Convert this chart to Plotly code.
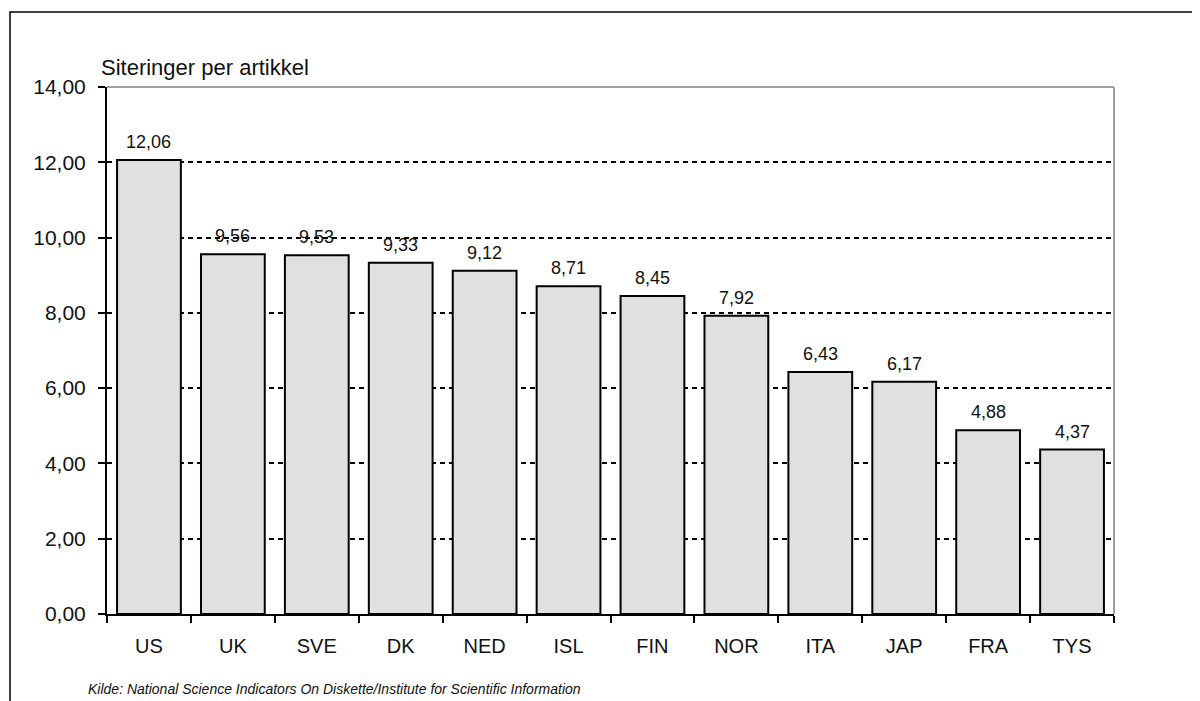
import plotly.graph_objects as go

categories = ["US", "UK", "SVE", "DK", "NED", "ISL", "FIN", "NOR", "ITA", "JAP", "FRA", "TYS"]
values = [12.06, 9.56, 9.53, 9.33, 9.12, 8.71, 8.45, 7.92, 6.43, 6.17, 4.88, 4.37]
y_tickvals = [0, 2, 4, 6, 8, 10, 12, 14]
y_ticktext = ["0,00", "2,00", "4,00", "6,00", "8,00", "10,00", "12,00", "14,00"]
y_title = "Siteringer per artikkel"
source_note = "Kilde: National Science Indicators On Diskette/Institute for Scientific Information"

FONT = "Arial, 'Liberation Sans', sans-serif"

# page has an 8px body margin; work in page pixels and convert
OFF = 8
W, H = 1200 - OFF, 701 - OFF
L, R, T, B = 107 - OFF, 1114 - OFF, 87 - OFF, 614 - OFF
pw, ph = R - L, B - T

def px(x):
    return (x - OFF - L) / pw

def py(y):
    return (B - (y - OFF)) / ph

fig = go.Figure()
fig.add_trace(go.Bar(
    x=categories, y=values,
    marker=dict(color="#e0e0e0", line=dict(color="black", width=2)),
    hoverinfo="skip",
))

for c, v in zip(categories, values):
    fig.add_annotation(x=c, y=v, xref="x", yref="y", text=f"{v:.2f}".replace(".", ","),
                       showarrow=False, yanchor="middle", yshift=18,
                       font=dict(family=FONT, size=18, color="#111"))

# Y title
fig.add_annotation(x=px(99), y=py(68), xref="paper", yref="paper", text=y_title,
                   showarrow=False, xanchor="left", yanchor="middle",
                   font=dict(family=FONT, size=22, color="#111"))
# Source note
fig.add_annotation(x=px(86), y=py(689), xref="paper", yref="paper", text="<i>" + source_note + "</i>",
                   showarrow=False, xanchor="left", yanchor="middle",
                   font=dict(family=FONT, size=14, color="#111"))

# Grey frame top & right
fig.add_shape(type="line", xref="paper", yref="paper", x0=0, x1=1, y0=1, y1=1,
              line=dict(color="#a0a0a0", width=2), layer="above")
fig.add_shape(type="line", xref="paper", yref="paper", x0=1, x1=1, y0=0, y1=1,
              line=dict(color="#a0a0a0", width=2), layer="above")
# Outer border
fig.add_shape(type="rect", xref="paper", yref="paper", x0=px(10), x1=px(1215), y0=py(12), y1=py(720),
              line=dict(color="black", width=1.5), fillcolor="rgba(0,0,0,0)", layer="above")

fig.update_layout(
    width=W, height=H,
    margin=dict(l=L, r=W - R, t=T, b=H - B, pad=0),
    paper_bgcolor="white", plot_bgcolor="white",
    showlegend=False, bargap=0.24,
    font=dict(family=FONT, color="#111"),
)
fig.update_xaxes(
    showline=True, linecolor="black", linewidth=2,
    ticks="outside", ticklen=7, tickwidth=2, tickcolor="black",
    tickson="boundaries", showgrid=False,
    tickfont=dict(family=FONT, size=20, color="#111"),
    ticklabelstandoff=13,
)
fig.update_yaxes(
    range=[0, 14], tickvals=y_tickvals, ticktext=y_ticktext,
    showline=True, linecolor="black", linewidth=2,
    ticks="outside", ticklen=7, tickwidth=2, tickcolor="black",
    showgrid=True, gridcolor="black", gridwidth=1.5, griddash="5px,4px",
    zeroline=False,
    tickfont=dict(family=FONT, size=21, color="#111"),
    ticklabelstandoff=8,
)

fig.write_html("out.html")
